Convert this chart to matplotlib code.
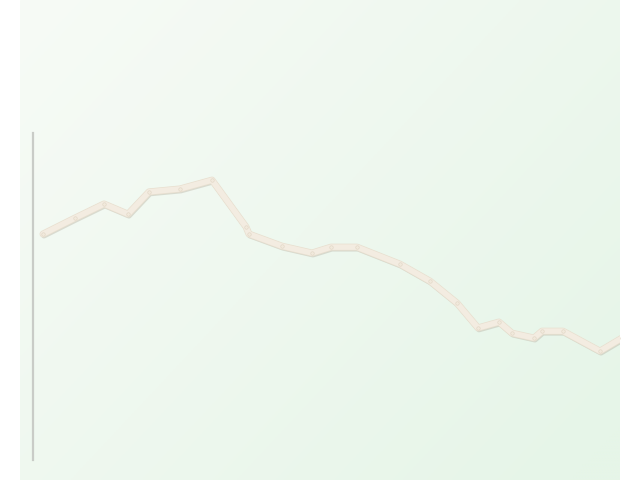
import numpy as np
import matplotlib
matplotlib.use("Agg")
import matplotlib.pyplot as plt
import matplotlib.patheffects as pe

# day offsets and values
days = [10, 42, 71, 95, 116, 147, 179, 213, 216, 249, 279, 298, 324,
        367, 397, 424, 445, 466, 479, 501, 509, 530, 567, 589]
values = [69.1, 74.0, 78.3, 75.2, 82.0, 82.9, 85.6, 71.3, 69.1, 65.4, 63.3, 65.1, 65.1,
          59.9, 54.7, 48.0, 40.4, 42.2, 38.8, 37.3, 39.4, 39.4, 33.3, 37.3]

fig = plt.figure(figsize=(6.4, 4.8), dpi=100, facecolor='white')

# soft green gradient panel
bg = fig.add_axes([20 / 640, 0, 600 / 640, 1])
bg.set_axis_off()
gx, gy = np.meshgrid(np.linspace(0, 1, 200), np.linspace(0, 1, 200))
t = np.clip(0.6 * gx + 0.45 * gy, 0, 1)
c0 = np.array([247, 251, 246]) / 255
c1 = np.array([230, 245, 232]) / 255
img = c0[None, None, :] * (1 - t[..., None]) + c1[None, None, :] * t[..., None]
bg.imshow(img, aspect='auto', extent=(0, 1, 0, 1), origin='upper')

ax = fig.add_axes([33 / 640, 20 / 480, 587 / 640, 327 / 480])
ax.patch.set_alpha(0)
ax.plot(days, values, color='#f3ece1', lw=4, solid_capstyle='round',
        solid_joinstyle='round',
        path_effects=[pe.SimpleLineShadow(offset=(0.7, -1.2), shadow_color='#b5ae9f', alpha=0.4),
                      pe.Stroke(linewidth=5, foreground='#e8dfcf'),
                      pe.Normal()])
ax.plot(days, values, ls='none', marker='o', ms=2.5,
        mfc='#f1e9dc', mec='#e0d5c3', mew=0.4)
ax.set_xlim(0, 587)
ax.set_ylim(0, 100)
for s in ['top', 'right', 'bottom']:
    ax.spines[s].set_visible(False)
ax.spines['left'].set_color('#c9ccc7')
ax.spines['left'].set_linewidth(1.6)
ax.set_xticks([])
ax.set_yticks([])

fig.savefig('out.png', dpi=100, facecolor='white')
